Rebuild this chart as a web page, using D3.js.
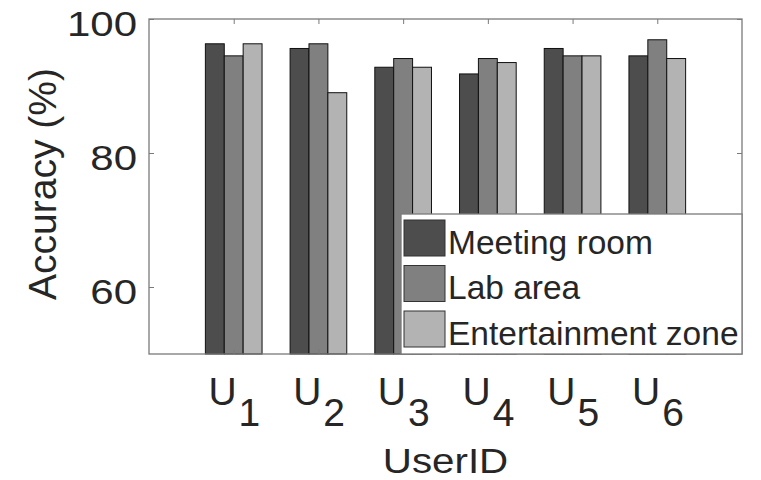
<!DOCTYPE html>
<html>
<head>
<meta charset="utf-8">
<script src="https://cdn.jsdelivr.net/npm/d3@7"></script>
<style>
  body { margin: 0; background: #fff; }
  text { font-family: "Liberation Sans", Arial, Helvetica, sans-serif; fill: #262626; }
</style>
</head>
<body>
<div id="plot"></div>
<script>
// data
const users = ['1', '2', '3', '4', '5', '6']
const seriesNames = ['Meeting room', 'Lab area', 'Entertainment zone']
const meetingRoom = [96.3, 95.6, 92.8, 91.8, 95.6, 94.5]
const labArea = [94.5, 96.3, 94.1, 94.1, 94.5, 96.9]
const entertainmentZone = [96.3, 89.0, 92.8, 93.5, 94.5, 94.1]
const yTicks = [60, 80, 100]

const width = 761, height = 480
const colors = ['#4d4d4d', '#808080', '#b3b3b3']
const series = [meetingRoom, labArea, entertainmentZone]

const svg = d3.select('#plot').append('svg')
  .attr('width', width).attr('height', height)

const pl = 149, pr = 742, pt = 19, pb = 354
const x = d3.scaleLinear().domain([0, users.length + 1]).range([pl, pr])
const y = d3.scaleLinear().domain([50, 100]).range([pb, pt])

const barW = 0.223
// bars
series.forEach((vals, j) => {
  svg.append('g').selectAll('rect').data(vals).enter()
    .append('rect')
    .attr('x', (d, i) => x(i + 1 + (j - 1.5) * barW))
    .attr('width', x(barW) - x(0))
    .attr('y', d => y(d))
    .attr('height', d => y(50) - y(d))
    .attr('fill', colors[j])
    .attr('stroke', '#111')
    .attr('stroke-width', 1)
})

const axisColor = '#7a7a7a'
const tickVals = users.map((u, i) => i + 1)

// bottom axis, labels are U with a subscript
const gx = svg.append('g').attr('transform', `translate(0,${pb})`)
  .call(d3.axisBottom(x).tickValues(tickVals).tickSize(-5).tickFormat(''))
gx.selectAll('text').remove()
tickVals.forEach((v, i) => {
  const t = svg.append('text')
    .attr('x', x(v) - 25.3)
    .attr('y', 405)
    .style('font-size', '39px')
  t.append('tspan').text('U')
  t.append('tspan').attr('dy', 21).attr('dx', 2).text(users[i])
})
// top axis (ticks only)
svg.append('g').attr('transform', `translate(0,${pt})`)
  .call(d3.axisTop(x).tickValues(tickVals).tickSize(-5).tickFormat(''))

// left axis
const gy = svg.append('g').attr('transform', `translate(${pl},0)`)
  .call(d3.axisLeft(y).tickValues(yTicks).tickSize(-5))
gy.selectAll('.tick text')
  .attr('x', 0)
  .attr('dy', 16)
  .attr('transform', 'translate(-12,0) scale(1.2,1)')
  .style('font-size', '35px')
  .style('fill', '#262626')
// right axis
svg.append('g').attr('transform', `translate(${pr},0)`)
  .call(d3.axisRight(y).tickValues(yTicks).tickSize(-5).tickFormat(''))

svg.selectAll('.domain').attr('stroke', 'none')
svg.selectAll('.tick line').attr('stroke', axisColor)

// box
svg.append('rect')
  .attr('x', pl).attr('y', pt)
  .attr('width', pr - pl).attr('height', pb - pt)
  .attr('fill', 'none').attr('stroke', axisColor).attr('stroke-width', 1.3)

// axis titles
svg.append('text')
  .attr('transform', `translate(${(pl + pr) / 2},473) scale(1.12,1)`)
  .attr('text-anchor', 'middle')
  .style('font-size', '36px')
  .text('UserID')
svg.append('text')
  .attr('transform', 'translate(56,184) rotate(-90)')
  .attr('text-anchor', 'middle')
  .style('font-size', '39px')
  .text('Accuracy (%)')

// legend
const lg = svg.append('g')
lg.append('rect')
  .attr('x', 401).attr('y', 214)
  .attr('width', pr - 401).attr('height', pb - 214)
  .attr('fill', '#fff').attr('stroke', axisColor).attr('stroke-width', 1.3)
seriesNames.forEach((name, j) => {
  const yy = 220 + j * 45.5
  lg.append('rect')
    .attr('x', 404).attr('y', yy)
    .attr('width', 41).attr('height', 36)
    .attr('fill', colors[j]).attr('stroke', '#333').attr('stroke-width', 1)
  lg.append('text')
    .attr('x', 448).attr('y', yy + 33.5)
    .style('font-size', '33.5px')
    .text(name)
})
</script>
</body>
</html>
